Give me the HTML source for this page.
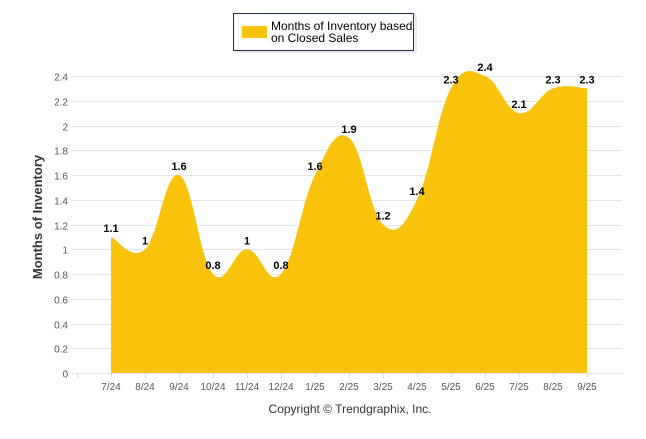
<!DOCTYPE html>
<html><head><meta charset="utf-8"><style>
body{margin:0;background:#fff;font-family:"Liberation Sans",Arial,sans-serif}
svg text{font-family:"Liberation Sans",Arial,sans-serif}
</style></head><body>
<svg width="646" height="434" xmlns="http://www.w3.org/2000/svg">
<g>
<rect x="236" y="15" width="180" height="37" fill="none" stroke="#bbb" stroke-width="1" opacity="0.6"/>
<rect x="233.5" y="13.5" width="180" height="37" fill="#fff" stroke="#1f2d4d" stroke-width="1"/>
<rect x="242" y="26" width="25" height="12" fill="#F8C30A"/>
<text x="271" y="30" font-size="12" fill="#000">Months of Inventory based</text>
<text x="271" y="42" font-size="12" fill="#000">on Closed Sales</text>
</g>
<g id="grid"></g>
<path id="area" fill="#F8C30A"/>
<g id="labels"></g>
<g id="xaxis"></g>
<text x="42" y="217" font-size="13" font-weight="bold" fill="#333" text-anchor="middle" transform="rotate(-90 42 217)">Months of Inventory</text>
<text x="350" y="413" font-size="12" fill="#333" text-anchor="middle">Copyright © Trendgraphix, Inc.</text>
</svg>
<script>
const categories=["7/24","8/24","9/24","10/24","11/24","12/24","1/25","2/25","3/25","4/25","5/25","6/25","7/25","8/25","9/25"];
const values=[1.1,1,1.6,0.8,1,0.8,1.6,1.9,1.2,1.4,2.3,2.4,2.1,2.3,2.3];
const yTicks=[0,0.2,0.4,0.6,0.8,1,1.2,1.4,1.6,1.8,2,2.2,2.4];
const NS="http://www.w3.org/2000/svg";
const x0=111,dx=34,yBase=373,yTop=76,yMax=2.4;
function xs(i){return x0+i*dx;}
function ys(v){return yBase-(v/yMax)*(yBase-yTop);}
function mk(tag,attrs,parent){const e=document.createElementNS(NS,tag);for(const k in attrs)e.setAttribute(k,attrs[k]);parent.appendChild(e);return e;}
const grid=document.getElementById('grid');
yTicks.forEach(t=>{
const y=Math.round(ys(t))+0.5;
const l=mk('line',{x1:71,x2:622,y1:y,y2:y,stroke:'#e6e6e6'},grid);


const tx=mk('text',{x:68,y:y+4,'font-size':10,fill:'#555','text-anchor':'end'},grid);
tx.textContent=String(t);


});
const xa=document.getElementById('xaxis');
for(let i=-1;i<categories.length;i++){
mk('line',{x1:xs(i)+0.5,x2:xs(i)+0.5,y1:373,y2:378,stroke:'#ddd'},xa);
}
categories.forEach((c,i)=>{
const t=mk('text',{x:xs(i),y:390,'font-size':10,fill:'#555','text-anchor':'middle'},xa);
t.textContent=c;


});
// Catmull-Rom spline
const pts=values.map((v,i)=>[xs(i),ys(v)]);
const n=pts.length;
function P(i){return pts[Math.max(0,Math.min(n-1,i))];}
let d=`M${pts[0][0]},${yBase} L${pts[0][0]},${pts[0][1]}`;
const k=1/5;
for(let i=0;i<n-1;i++){
const p0=P(i-1),p1=P(i),p2=P(i+1),p3=P(i+2);
const c1=[p1[0]+(p2[0]-p0[0])*k, p1[1]+(p2[1]-p0[1])*k];
const c2=[p2[0]-(p3[0]-p1[0])*k, p2[1]-(p3[1]-p1[1])*k];
d+=` C${c1[0]},${c1[1]} ${c2[0]},${c2[1]} ${p2[0]},${p2[1]}`;
}
d+=` L${pts[n-1][0]},${yBase} Z`;
document.getElementById('area').setAttribute('d',d);
const lb=document.getElementById('labels');
values.forEach((v,i)=>{
const t=mk('text',{x:xs(i),y:ys(v)-5,'font-size':11,'font-weight':'bold',fill:'#000','text-anchor':'middle'},lb);
t.textContent=String(v);


});
</script>
</body></html>
